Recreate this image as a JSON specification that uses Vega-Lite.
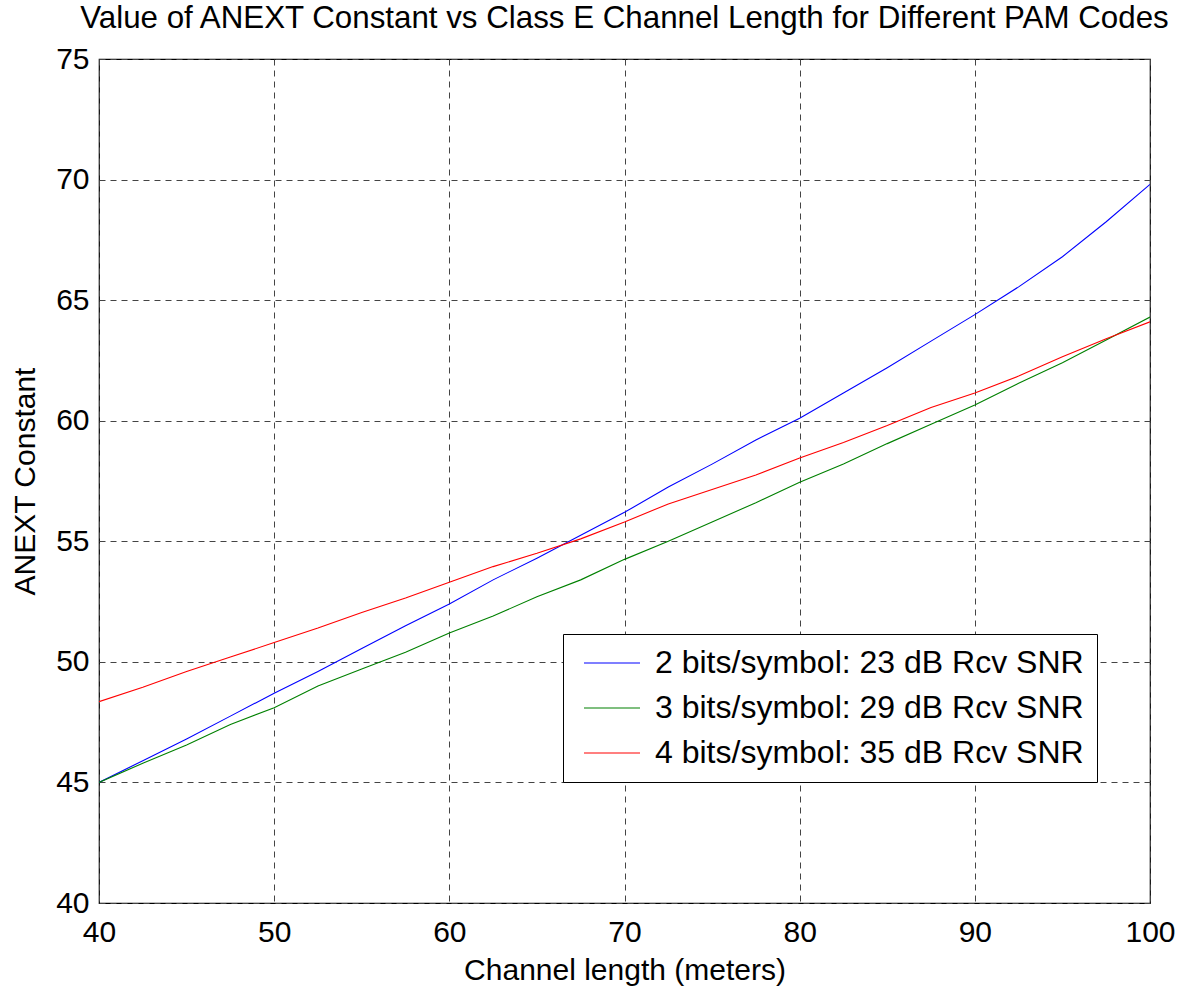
{
  "$schema": "https://vega.github.io/schema/vega-lite/v6.json",
  "autosize": "none",
  "width": 1051,
  "height": 844,
  "padding": {"left": 99, "top": 59, "right": 28, "bottom": 86},
  "background": "white",
  "config": {
    "font": "Liberation Sans",
    "view": {"stroke": "black", "strokeWidth": 1.2}
  },
  "title": {
    "text": "Value of ANEXT Constant vs Class E Channel Length for Different PAM Codes",
    "font": "Liberation Sans",
    "fontSize": 31.3,
    "fontWeight": "normal",
    "color": "black",
    "anchor": "middle",
    "baseline": "alphabetic",
    "offset": -15
  },
  "data": {
    "values": [
      {"length": 40, "anext": 45.0, "series": "2 bits/symbol: 23 dB Rcv SNR"},
      {"length": 42.5, "anext": 45.9, "series": "2 bits/symbol: 23 dB Rcv SNR"},
      {"length": 45, "anext": 46.8, "series": "2 bits/symbol: 23 dB Rcv SNR"},
      {"length": 47.5, "anext": 47.75, "series": "2 bits/symbol: 23 dB Rcv SNR"},
      {"length": 50, "anext": 48.7, "series": "2 bits/symbol: 23 dB Rcv SNR"},
      {"length": 52.5, "anext": 49.6, "series": "2 bits/symbol: 23 dB Rcv SNR"},
      {"length": 55, "anext": 50.55, "series": "2 bits/symbol: 23 dB Rcv SNR"},
      {"length": 57.5, "anext": 51.5, "series": "2 bits/symbol: 23 dB Rcv SNR"},
      {"length": 60, "anext": 52.4, "series": "2 bits/symbol: 23 dB Rcv SNR"},
      {"length": 62.5, "anext": 53.4, "series": "2 bits/symbol: 23 dB Rcv SNR"},
      {"length": 65, "anext": 54.3, "series": "2 bits/symbol: 23 dB Rcv SNR"},
      {"length": 67.5, "anext": 55.25, "series": "2 bits/symbol: 23 dB Rcv SNR"},
      {"length": 70, "anext": 56.2, "series": "2 bits/symbol: 23 dB Rcv SNR"},
      {"length": 72.5, "anext": 57.25, "series": "2 bits/symbol: 23 dB Rcv SNR"},
      {"length": 75, "anext": 58.2, "series": "2 bits/symbol: 23 dB Rcv SNR"},
      {"length": 77.5, "anext": 59.2, "series": "2 bits/symbol: 23 dB Rcv SNR"},
      {"length": 80, "anext": 60.1, "series": "2 bits/symbol: 23 dB Rcv SNR"},
      {"length": 82.5, "anext": 61.15, "series": "2 bits/symbol: 23 dB Rcv SNR"},
      {"length": 85, "anext": 62.2, "series": "2 bits/symbol: 23 dB Rcv SNR"},
      {"length": 87.5, "anext": 63.3, "series": "2 bits/symbol: 23 dB Rcv SNR"},
      {"length": 90, "anext": 64.4, "series": "2 bits/symbol: 23 dB Rcv SNR"},
      {"length": 92.5, "anext": 65.55, "series": "2 bits/symbol: 23 dB Rcv SNR"},
      {"length": 95, "anext": 66.8, "series": "2 bits/symbol: 23 dB Rcv SNR"},
      {"length": 97.5, "anext": 68.25, "series": "2 bits/symbol: 23 dB Rcv SNR"},
      {"length": 100, "anext": 69.8, "series": "2 bits/symbol: 23 dB Rcv SNR"},
      {"length": 40, "anext": 45.0, "series": "3 bits/symbol: 29 dB Rcv SNR"},
      {"length": 42.5, "anext": 45.8, "series": "3 bits/symbol: 29 dB Rcv SNR"},
      {"length": 45, "anext": 46.55, "series": "3 bits/symbol: 29 dB Rcv SNR"},
      {"length": 47.5, "anext": 47.4, "series": "3 bits/symbol: 29 dB Rcv SNR"},
      {"length": 50, "anext": 48.1, "series": "3 bits/symbol: 29 dB Rcv SNR"},
      {"length": 52.5, "anext": 49.0, "series": "3 bits/symbol: 29 dB Rcv SNR"},
      {"length": 55, "anext": 49.7, "series": "3 bits/symbol: 29 dB Rcv SNR"},
      {"length": 57.5, "anext": 50.4, "series": "3 bits/symbol: 29 dB Rcv SNR"},
      {"length": 60, "anext": 51.2, "series": "3 bits/symbol: 29 dB Rcv SNR"},
      {"length": 62.5, "anext": 51.9, "series": "3 bits/symbol: 29 dB Rcv SNR"},
      {"length": 65, "anext": 52.7, "series": "3 bits/symbol: 29 dB Rcv SNR"},
      {"length": 67.5, "anext": 53.4, "series": "3 bits/symbol: 29 dB Rcv SNR"},
      {"length": 70, "anext": 54.25, "series": "3 bits/symbol: 29 dB Rcv SNR"},
      {"length": 72.5, "anext": 55.0, "series": "3 bits/symbol: 29 dB Rcv SNR"},
      {"length": 75, "anext": 55.8, "series": "3 bits/symbol: 29 dB Rcv SNR"},
      {"length": 77.5, "anext": 56.6, "series": "3 bits/symbol: 29 dB Rcv SNR"},
      {"length": 80, "anext": 57.45, "series": "3 bits/symbol: 29 dB Rcv SNR"},
      {"length": 82.5, "anext": 58.2, "series": "3 bits/symbol: 29 dB Rcv SNR"},
      {"length": 85, "anext": 59.05, "series": "3 bits/symbol: 29 dB Rcv SNR"},
      {"length": 87.5, "anext": 59.85, "series": "3 bits/symbol: 29 dB Rcv SNR"},
      {"length": 90, "anext": 60.65, "series": "3 bits/symbol: 29 dB Rcv SNR"},
      {"length": 92.5, "anext": 61.55, "series": "3 bits/symbol: 29 dB Rcv SNR"},
      {"length": 95, "anext": 62.4, "series": "3 bits/symbol: 29 dB Rcv SNR"},
      {"length": 97.5, "anext": 63.35, "series": "3 bits/symbol: 29 dB Rcv SNR"},
      {"length": 100, "anext": 64.3, "series": "3 bits/symbol: 29 dB Rcv SNR"},
      {"length": 40, "anext": 48.35, "series": "4 bits/symbol: 35 dB Rcv SNR"},
      {"length": 42.5, "anext": 48.95, "series": "4 bits/symbol: 35 dB Rcv SNR"},
      {"length": 45, "anext": 49.6, "series": "4 bits/symbol: 35 dB Rcv SNR"},
      {"length": 47.5, "anext": 50.2, "series": "4 bits/symbol: 35 dB Rcv SNR"},
      {"length": 50, "anext": 50.8, "series": "4 bits/symbol: 35 dB Rcv SNR"},
      {"length": 52.5, "anext": 51.4, "series": "4 bits/symbol: 35 dB Rcv SNR"},
      {"length": 55, "anext": 52.05, "series": "4 bits/symbol: 35 dB Rcv SNR"},
      {"length": 57.5, "anext": 52.65, "series": "4 bits/symbol: 35 dB Rcv SNR"},
      {"length": 60, "anext": 53.3, "series": "4 bits/symbol: 35 dB Rcv SNR"},
      {"length": 62.5, "anext": 53.95, "series": "4 bits/symbol: 35 dB Rcv SNR"},
      {"length": 65, "anext": 54.5, "series": "4 bits/symbol: 35 dB Rcv SNR"},
      {"length": 67.5, "anext": 55.1, "series": "4 bits/symbol: 35 dB Rcv SNR"},
      {"length": 70, "anext": 55.8, "series": "4 bits/symbol: 35 dB Rcv SNR"},
      {"length": 72.5, "anext": 56.55, "series": "4 bits/symbol: 35 dB Rcv SNR"},
      {"length": 75, "anext": 57.15, "series": "4 bits/symbol: 35 dB Rcv SNR"},
      {"length": 77.5, "anext": 57.75, "series": "4 bits/symbol: 35 dB Rcv SNR"},
      {"length": 80, "anext": 58.45, "series": "4 bits/symbol: 35 dB Rcv SNR"},
      {"length": 82.5, "anext": 59.1, "series": "4 bits/symbol: 35 dB Rcv SNR"},
      {"length": 85, "anext": 59.8, "series": "4 bits/symbol: 35 dB Rcv SNR"},
      {"length": 87.5, "anext": 60.55, "series": "4 bits/symbol: 35 dB Rcv SNR"},
      {"length": 90, "anext": 61.15, "series": "4 bits/symbol: 35 dB Rcv SNR"},
      {"length": 92.5, "anext": 61.85, "series": "4 bits/symbol: 35 dB Rcv SNR"},
      {"length": 95, "anext": 62.65, "series": "4 bits/symbol: 35 dB Rcv SNR"},
      {"length": 97.5, "anext": 63.4, "series": "4 bits/symbol: 35 dB Rcv SNR"},
      {"length": 100, "anext": 64.1, "series": "4 bits/symbol: 35 dB Rcv SNR"}
    ]
  },
  "mark": {"type": "line", "strokeWidth": 1.1, "clip": true},
  "encoding": {
    "x": {
      "field": "length",
      "type": "quantitative",
      "scale": {"domain": [40, 100], "nice": false, "zero": false},
      "axis": {
        "title": "Channel length (meters)",
        "values": [40, 50, 60, 70, 80, 90, 100],
        "grid": true,
        "gridColor": "#444",
        "gridDash": [6, 5],
        "gridWidth": 1,
        "gridOpacity": 1,
        "domain": false,
        "ticks": false,
        "labelFont": "Liberation Sans",
        "labelFontSize": 30,
        "labelColor": "black",
        "labelPadding": 14,
        "labelFlush": false,
        "titleFont": "Liberation Sans",
        "titleFontSize": 30,
        "titleFontWeight": "normal",
        "titleColor": "black",
        "titleBaseline": "middle",
        "titleY": 67
      }
    },
    "y": {
      "field": "anext",
      "type": "quantitative",
      "scale": {"domain": [40, 75], "nice": false, "zero": false},
      "axis": {
        "title": "ANEXT Constant",
        "values": [40, 45, 50, 55, 60, 65, 70, 75],
        "grid": true,
        "gridColor": "#444",
        "gridDash": [6, 5],
        "gridWidth": 1,
        "gridOpacity": 1,
        "domain": false,
        "ticks": false,
        "labelFont": "Liberation Sans",
        "labelFontSize": 30,
        "labelColor": "black",
        "labelPadding": 10,
        "labelFlush": false,
        "titleFont": "Liberation Sans",
        "titleFontSize": 30,
        "titleFontWeight": "normal",
        "titleColor": "black",
        "titleBaseline": "middle",
        "titleAngle": 270,
        "titleX": -74,
        "titleY": 422
      }
    },
    "color": {
      "field": "series",
      "type": "nominal",
      "scale": {
        "domain": ["2 bits/symbol: 23 dB Rcv SNR", "3 bits/symbol: 29 dB Rcv SNR", "4 bits/symbol: 35 dB Rcv SNR"],
        "range": ["#0000FF", "#008000", "#FF0000"]
      },
      "legend": {
        "title": null,
        "orient": "none",
        "legendX": 464,
        "legendY": 575,
        "padding": 13,
        "fillColor": "white",
        "strokeColor": "black",
        "symbolType": "M-2,0H2",
        "symbolSize": 784,
        "symbolStrokeWidth": 1.2,
        "symbolFillColor": "transparent",
        "symbolOffset": 20,
        "labelOffset": 27,
        "labelExpr": "datum.label + '\u00a0'",
        "labelFont": "Liberation Sans",
        "labelFontSize": 32,
        "labelColor": "black",
        "labelLimit": 600,
        "rowPadding": 13
      }
    }
  }
}
